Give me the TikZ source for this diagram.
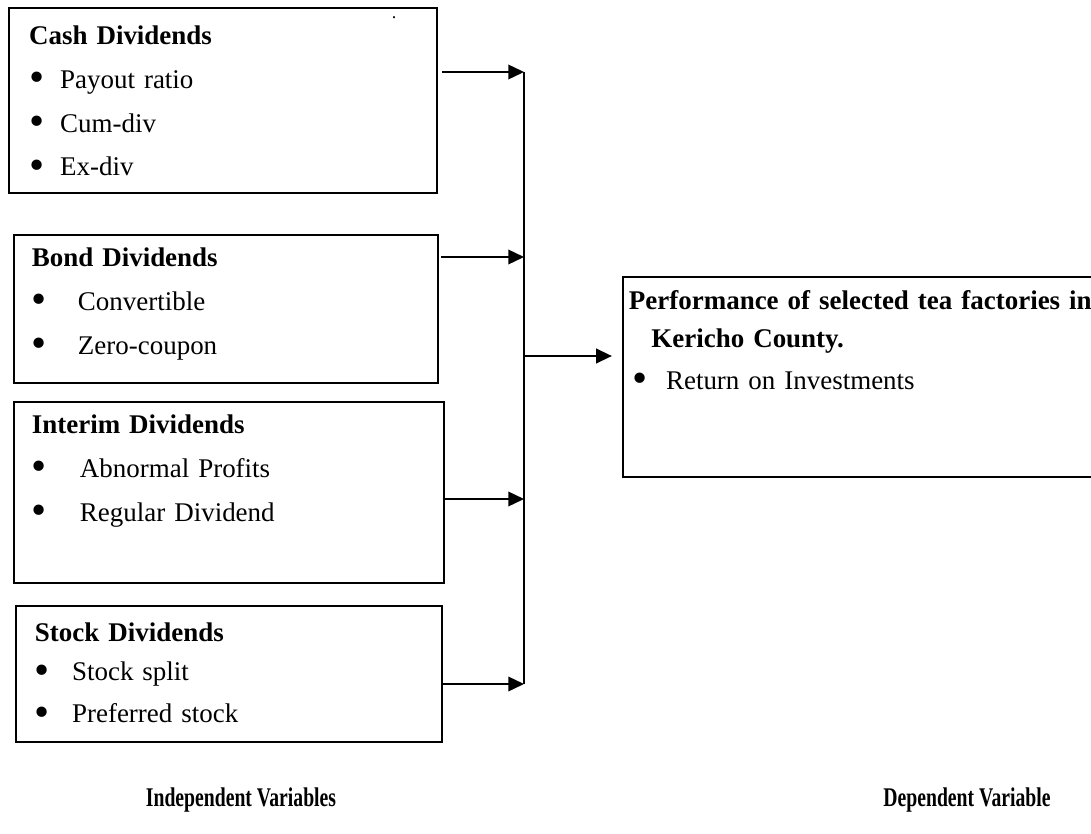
\documentclass[tikz,border=0pt]{standalone}
\usepackage{fontspec}
\setmainfont{Liberation Serif}
\usepackage{graphicx}
\usepackage{tikz}
\usetikzlibrary{arrows.meta}

\newcommand{\bitem}[2]{\makebox[#1][l]{\raisebox{-1.5pt}{\scalebox{1.6}{\textbullet}}}#2}

\begin{document}
\begin{tikzpicture}[x=0.445pt, y=-0.445pt,
    block/.style={draw, line width=0.8pt, anchor=north west, align=left, inner ysep=0pt, font=\fontsize{12}{13.8}\selectfont},
    arrow/.style={-{Triangle[length=7pt,width=6.5pt]}, line width=0.8pt},
    bus/.style={line width=0.8pt},
    caption/.style={anchor=base, font=\fontsize{12}{13.8}\selectfont\bfseries}]

    \useasboundingbox (0,0) rectangle (1091,834);

    % independent variables
    \node[block, inner xsep=9pt, text width=172.5pt, text height=16.5pt, text depth=65.9pt] (cash) at (8,7)
        {\textbf{Cash Dividends}\\[5.6pt]
         \bitem{13.8pt}{Payout ratio}\\[5.6pt]
         \bitem{13.8pt}{Cum-div}\\[5.6pt]
         \bitem{13.8pt}{Ex-div}};
    \node[font=\fontsize{8}{8}\selectfont, inner sep=0pt] (dot) at (394,18) {.};
    \node[block, inner xsep=8pt, text width=172.7pt, text height=14.2pt, text depth=51.6pt] (bond) at (13,234)
        {\textbf{Bond Dividends}\\[5.6pt]
         \bitem{20.5pt}{Convertible}\\[5.6pt]
         \bitem{20.5pt}{Zero-coupon}};
    \node[block, inner xsep=8pt, text width=175.4pt, text height=14.2pt, text depth=66.3pt] (interim) at (13,401)
        {\textbf{Interim Dividends}\\[5.6pt]
         \bitem{21.4pt}{Abnormal Profits}\\[5.6pt]
         \bitem{21.4pt}{Regular Dividend}};
    \node[block, inner xsep=8.5pt, text width=172.6pt, text height=16pt, text depth=44.5pt] (stock) at (15,605)
        {\textbf{Stock Dividends}\\[3.5pt]
         \bitem{16.5pt}{Stock split}\\[5pt]
         \bitem{16.5pt}{Preferred stock}};

    % dependent variable
    \node[block, inner xsep=2.7pt, text width=212.7pt, text height=14.5pt, text depth=74.5pt] (perf) at (622,276)
        {\textbf{Performance of selected tea factories in}\\[3pt]
         \hspace*{10pt}\textbf{Kericho County.}\\[5pt]
         \hspace*{1.5pt}\bitem{15pt}{Return on Investments}};

    % bus
    \coordinate (in1) at (524,72);
    \coordinate (in2) at (524,257);
    \coordinate (in3) at (524,499);
    \coordinate (in4) at (524,684);
    \coordinate (mid) at (524,356);

    \draw[arrow] ([xshift=2pt]cash.east |- in1) -- (in1);
    \draw[arrow] ([xshift=1pt]bond.east |- in2) -- (in2);
    \draw[arrow] ([xshift=-1pt]interim.east |- in3) -- (in3);
    \draw[arrow] (stock.east |- in4) -- (in4);
    \draw[bus] (in1) -- (in4);
    \draw[arrow, shorten >=4.5pt] (mid) -- (perf.west |- mid);

    % captions
    \node[caption] (indep) at (241,806) {\scalebox{0.73}[1]{Independent Variables}};
    \node[caption] (dep) at (967,806) {\scalebox{0.73}[1]{Dependent Variable}};
\end{tikzpicture}
\end{document}
